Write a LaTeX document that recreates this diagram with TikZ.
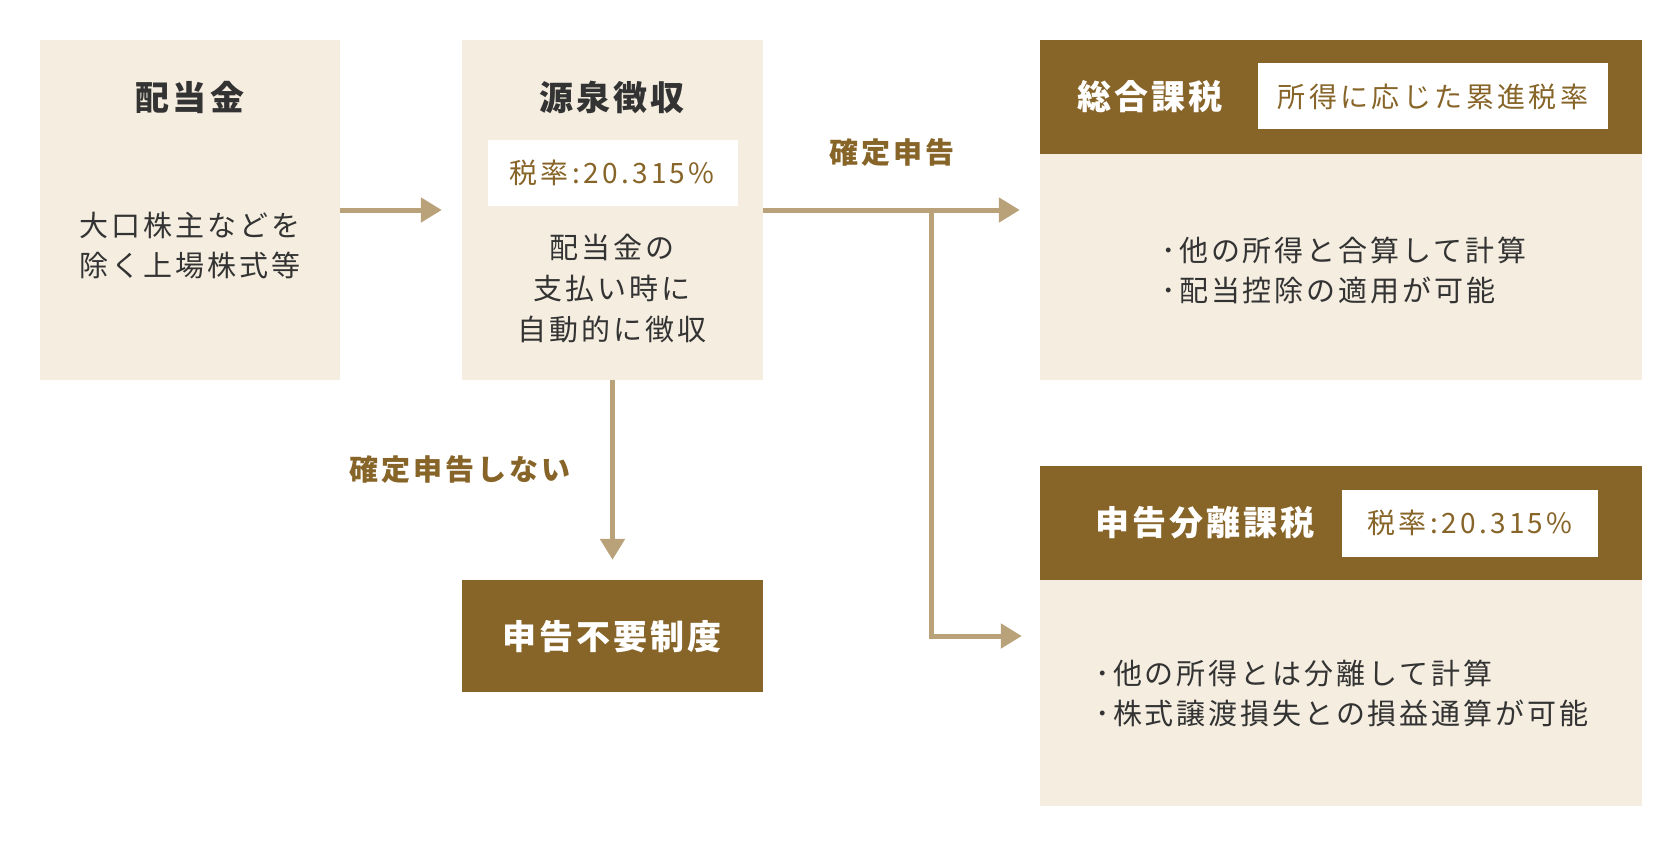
\documentclass[tikz,border=0pt]{standalone}
\usepackage{fontspec}
\setmainfont{Noto Sans CJK JP}
\newfontfamily\jpbody[LetterSpace=10]{Noto Sans CJK JP}
\newfontfamily\jprate[LetterSpace=12]{Noto Sans CJK JP}
\newfontfamily\jptitle[LetterSpace=9]{Noto Sans CJK JP}
\usetikzlibrary{arrows.meta}
\definecolor{cream}{HTML}{F4EDE0}
\definecolor{brn}{HTML}{876428}
\definecolor{arr}{HTML}{B9A27A}
\definecolor{txt}{HTML}{333333}
\definecolor{lbl}{HTML}{876428}
\newcommand\ttlfont{\jptitle\bfseries\fontsize{34pt}{40pt}\selectfont}
\newcommand\bodyfont{\jpbody\fontsize{29pt}{40pt}\selectfont}
\newcommand\bodyfontb{\jpbody\fontsize{29pt}{41pt}\selectfont}
\newcommand\lblfont{\jpbody\bfseries\fontsize{29pt}{34pt}\selectfont}
\newcommand\ratefont{\jprate\fontsize{28pt}{34pt}\selectfont}
\begin{document}
\begin{tikzpicture}[x=1pt,y=-1pt,
  panel/.style={fill=cream, draw=none, inner sep=0pt},
  head/.style={fill=brn, draw=none, inner sep=0pt},
  whitebox/.style={fill=white, draw=none, inner sep=0pt},
  flow/.style={draw=arr, line width=5pt, -{Triangle[length=21pt,width=24pt]}},
  ttl/.style={font=\ttlfont, text=txt, inner sep=0pt},
  ttlw/.style={font=\ttlfont, text=white, inner sep=0pt},
  body/.style={font=\bodyfont, text=txt, inner sep=0pt, align=center},
  bodyb/.style={font=\bodyfontb, text=txt, inner sep=0pt, align=center},
  bodyl/.style={font=\bodyfont, text=txt, inner sep=0pt, align=left},
  lbl/.style={font=\lblfont, text=lbl, inner sep=0pt},
  rate/.style={font=\ratefont, text=lbl, inner sep=0pt}
]
\useasboundingbox[fill=white] (0,0) rectangle (1680,846);

% panels
\node[panel, minimum width=300pt, minimum height=340pt] (A) at (190,210) {};
\node[panel, minimum width=301pt, minimum height=340pt] (B) at (612.5,210) {};
\node[panel, minimum width=602pt, minimum height=340pt] (C) at (1341,210) {};
\node[head, minimum width=602pt, minimum height=114pt] (CH) at (1341,97) {};
\node[head, minimum width=301pt, minimum height=112pt] (D) at (612.5,636) {};
\node[panel, minimum width=602pt, minimum height=340pt] (E) at (1341,636) {};
\node[head, minimum width=602pt, minimum height=114pt] (EH) at (1341,523) {};

% white boxes
\node[whitebox, minimum width=250pt, minimum height=66pt] (BW) at (613,173) {};
\node[whitebox, minimum width=350pt, minimum height=66pt] (CW) at (1433,96) {};
\node[whitebox, minimum width=256pt, minimum height=67pt] (EW) at (1470,523.5) {};

% texts
\node[ttl] (At) at (190,97) {配当金};
\node[body] (Ab) at (190,246) {大口株主などを\\除く上場株式等};
\node[ttl] (Bt) at (612,97) {源泉徴収};
\node[rate] (Br) at (612,173) {税率:20.315\%};
\node[bodyb] (Bb) at (612,289) {配当金の\\支払い時に\\自動的に徴収};
\node[ttlw] (Ct) at (1150,97) {総合課税};
\node[rate] (Cr) at (1433,97) {所得に応じた累進税率};
\node[bodyl] (Cb) at (1344,270) {･他の所得と合算して計算\\･配当控除の適用が可能};
\node[ttlw] (Dt) at (612,637) {申告不要制度};
\node[ttlw] (Et) at (1205,523) {申告分離課税};
\node[rate] (Er) at (1470,523) {税率:20.315\%};
\node[bodyl] (Eb) at (1342,693) {･他の所得とは分離して計算\\･株式譲渡損失との損益通算が可能};

% labels
\node[lbl] (L1) at (892,153) {確定申告};
\node[lbl] (L2) at (460,470) {確定申告しない};

% connectors
\draw[flow, shorten >=20pt] (A.east) -- (B.west);
\draw[flow, shorten >=20pt] (B.east) -- (C.west);
\coordinate (br) at (931,210);
\draw[flow, shorten >=20pt] (B.south) -- (D.north);
\draw[flow, shorten >=18pt] (br) |- (E.west);
\end{tikzpicture}
\end{document}
